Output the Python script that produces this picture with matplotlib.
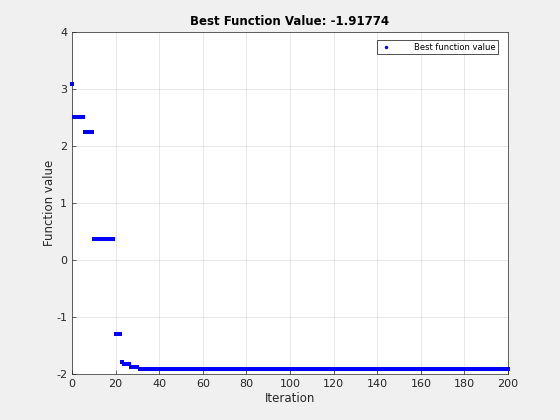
import numpy as np
import matplotlib
matplotlib.use("Agg")
import matplotlib.pyplot as plt
from matplotlib.lines import Line2D

# Step levels of the best function value and how many iterations each lasts
levels = [3.09, 2.51, 2.245, 0.37, -1.30, -1.795, -1.83, -1.877, -1.909, -1.91774]
counts = [1, 5, 4, 10, 3, 1, 3, 4, 4, 166]
iterations = np.arange(sum(counts))
values = np.repeat(levels, counts)
best_value = -1.91774

xticks = list(range(0, 201, 20))
yticks = [-2, -1, 0, 1, 2, 3, 4]

plt.rcParams['font.family'] = ['DejaVu Sans']
plt.rcParams['axes.unicode_minus'] = False
fig = plt.figure(figsize=(5.6, 4.2), dpi=100, facecolor='#f0f0f0')
ax = fig.add_axes([0.1286, 0.1095, 0.7786, 0.8143])
ax.plot(iterations, values, linestyle='none', marker='s', markersize=2.3,
        markeredgewidth=0, color='#0000ff', clip_on=False, zorder=3)
ax.set_xlim(0, 200)
ax.set_ylim(-2, 4)
ax.set_xticks(xticks)
ax.set_yticks(yticks)
ax.grid(True, color='#262626', alpha=0.15, linewidth=0.5)
ax.set_axisbelow(True)
ax.tick_params(direction='in', length=3, width=0.5, colors='#262626',
               labelsize=8, top=False, right=False)
for s in ax.spines.values():
    s.set_linewidth(0.5)
    s.set_color('#262626')
ax.set_title('Best Function Value: %.5f' % best_value, fontsize=8.5,
             fontweight='bold', color='black', pad=5)
ax.set_xlabel('Iteration', fontsize=8.5, color='#262626', labelpad=2)
ax.set_ylabel('Function value', fontsize=8.5, color='#262626', labelpad=0)
proxy = Line2D([], [], linestyle='none', marker='o', markersize=2.5,
               markeredgewidth=0, color='#0000ff')
leg = ax.legend([proxy], ['Best function value'], loc='upper right',
                bbox_to_anchor=(498 / 560, (420 - 40) / 420),
                bbox_transform=fig.transFigure, borderaxespad=0,
                fontsize=6, frameon=True, fancybox=False,
                handlelength=1.5, handletextpad=2.6, borderpad=0.3)
leg.get_frame().set_edgecolor('black')
leg.get_frame().set_linewidth(0.6)
fig.savefig('out.png', dpi=100, facecolor=fig.get_facecolor())
